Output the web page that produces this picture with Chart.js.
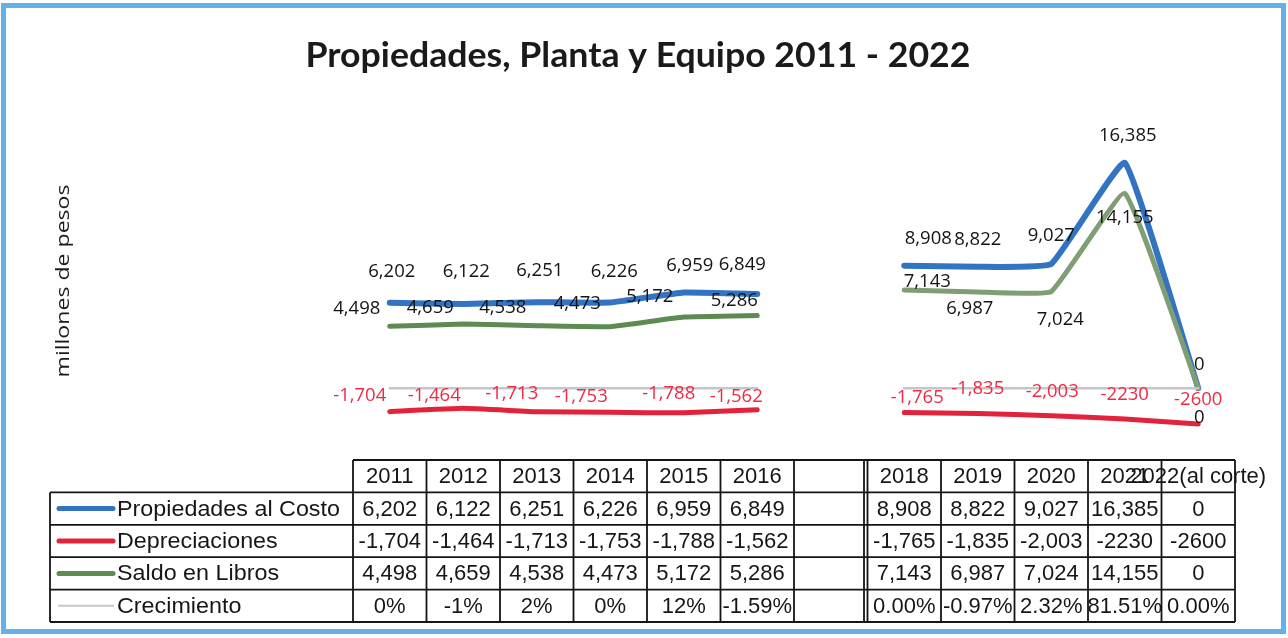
<!DOCTYPE html>
<html><head><meta charset="utf-8">
<script src="https://cdn.jsdelivr.net/npm/chart.js@4/dist/chart.umd.min.js"></script>
<style>html,body{margin:0;padding:0;background:#fff;overflow:hidden}canvas{display:block}</style>
</head><body>
<canvas id="c" width="1288" height="638"></canvas>
<script>
// ---------- data ----------
const categories = ['2011','2012','2013','2014','2015','2016','','2018','2019','2020','2021','2022(al corte)'];
const seriesNames = ['Propiedades al Costo','Depreciaciones','Saldo en Libros','Crecimiento'];
const propiedades    = [6202, 6122, 6251, 6226, 6959, 6849, null, 8908, 8822, 9027, 16385, 0];
const depreciaciones = [-1704,-1464,-1713,-1753,-1788,-1562, null,-1765,-1835,-2003,-2230,-2600];
const saldo          = [4498, 4659, 4538, 4473, 5172, 5286, null, 7143, 6987, 7024, 14155, 0];
const crecimiento    = [0, -1, 2, 0, 12, -1.59, null, 0, -0.97, 2.32, 81.51, 0]; // percent
const crecimientoDecimals = [0,0,0,0,0,2,null,2,2,2,2,2];
const depNoGrouping  = [false,false,false,false,false,false,false,false,false,false,true,true];

// ---------- style ----------
const COLORS = { prop:'#3273c2', dep:'#e3223c', salA:'#5e8b52', salB:'#7f9e73', crec:'#c6c6c6', red:'#ee2a45' };
const labelOffsets = {
  prop: [[2,-31],[3,-32],[3,-31],[4,-31],[6,-27],[-15,-29],null,[24,-27],[0,-27],[0,-28],[3,-27],[1,-23]],
  sal:  [[-33,-18],[-33,-16],[-34,-18],[-33,-23],[-34,-20],[-23,-15],null,[23,-8],[-8,17],[9,28],[0,24],[1,30]],
  dep:  [[-30,-16],[-29,-13],[-25,-18],[-29,-16],[-15,-19],[-21,-13],null,[13,-15],[0,-25],[1,-24],[0,-24],[0,-24]]
};

function fmt(v, grouped){ return grouped ? v.toLocaleString('en-US') : String(v); }
function fmtPct(v, d){ return v.toFixed(d) + '%'; }

const dataLabels = {
  id:'dataLabels',
  afterDatasetsDraw(chart){
    const ctx = chart.ctx;
    const specs = [
      {ds:0, off:labelOffsets.prop, color:'#141414', text:(v,i)=>fmt(v,true)},
      {ds:2, off:labelOffsets.sal,  color:'#141414', text:(v,i)=>fmt(v,true)},
      {ds:1, off:labelOffsets.dep,  color:COLORS.red, text:(v,i)=>fmt(v,!depNoGrouping[i])}
    ];
    ctx.save();
    ctx.font = '500 18.5px "Open Sans"';
    ctx.textAlign = 'center'; ctx.textBaseline = 'middle';
    specs.forEach(s=>{
      const meta = chart.getDatasetMeta(s.ds);
      const vals = chart.data.datasets[s.ds].data;
      vals.forEach((v,i)=>{
        if (v === null) return;
        const p = meta.data[i]; const o = s.off[i] || [0,-20];
        ctx.fillStyle = s.color;
        ctx.fillText(s.text(v,i), p.x + o[0], p.y + o[1]);
      });
    });
    ctx.restore();
  }
};

const decor = {
  id:'decor',
  beforeDraw(chart){
    const ctx = chart.ctx;
    ctx.save(); ctx.fillStyle = '#fff'; ctx.fillRect(0,0,chart.width,chart.height); ctx.restore();
  },
  afterDraw(chart){
    const ctx = chart.ctx;
    const xs = chart.scales.x;
    const area = chart.chartArea;
    ctx.save();
    // frame
    ctx.strokeStyle = '#66b0e9'; ctx.lineWidth = 5;
    ctx.strokeRect(3.5, 5.5, 1280, 626);
    // title (fit to width)
    const title = 'Propiedades, Planta y Equipo 2011 - 2022';
    ctx.font = 'bold 35px Lato';
    let w = ctx.measureText(title).width;
    ctx.save();
    ctx.translate(638, 67); ctx.scale(665 / w, 1);
    ctx.fillStyle = '#1a1a1a'; ctx.textAlign = 'center'; ctx.textBaseline = 'alphabetic';
    ctx.fillText(title, 0, 0);
    ctx.restore();
    // y axis title
    ctx.save();
    ctx.translate(64, 281); ctx.rotate(-Math.PI/2);
    ctx.font = '19px "Open Sans"'; ctx.textBaseline = 'middle'; ctx.textAlign = 'center';
    const yt = 'millones de pesos';
    const yw = ctx.measureText(yt).width;
    ctx.scale(193 / yw, 1);
    ctx.fillStyle = '#1a1a1a';
    ctx.fillText(yt, 0, 0);
    ctx.restore();

    // data table
    const colW = area.width / categories.length;
    const left = area.left, right = area.right;
    const top = 460, rowH = 32.4, nRows = 5;
    const labelLeft = 50;
    ctx.strokeStyle = '#151515'; ctx.lineWidth = 1.8;
    ctx.beginPath();
    ctx.moveTo(left, top); ctx.lineTo(right, top);
    for (let r=1; r<=nRows; r++){
      const y = top + r*rowH;
      ctx.moveTo(labelLeft, y); ctx.lineTo(right, y);
    }
    ctx.moveTo(labelLeft, top+rowH); ctx.lineTo(labelLeft, top+nRows*rowH);
    for (let c=0; c<=categories.length; c++){
      const x = left + c*colW;
      ctx.moveTo(x, top); ctx.lineTo(x, top+nRows*rowH);
    }
    // double rule where the table is split (before 2018)
    const xs2 = left + 7*colW - 3.5;
    ctx.moveTo(xs2, top); ctx.lineTo(xs2, top+nRows*rowH);
    ctx.stroke();

    ctx.fillStyle = '#161616';
    ctx.font = '22px "Liberation Sans"';
    ctx.textBaseline = 'middle'; ctx.textAlign = 'center';
    categories.forEach((c,i)=>{
      ctx.fillText(c, xs.getPixelForValue(i), top + rowH/2 + 1);
    });
    const rows = [
      propiedades.map(v=> v===null?'':fmt(v,true)),
      depreciaciones.map((v,i)=> v===null?'':fmt(v,!depNoGrouping[i])),
      saldo.map(v=> v===null?'':fmt(v,true)),
      crecimiento.map((v,i)=> v===null?'':fmtPct(v,crecimientoDecimals[i]))
    ];
    const keyColors = [COLORS.prop, COLORS.dep, COLORS.salA, COLORS.crec];
    const keyWidths = [5,5,5,2];
    rows.forEach((row,r)=>{
      const yc = top + (r+1)*rowH + rowH/2;
      row.forEach((t,i)=>{ ctx.fillText(t, xs.getPixelForValue(i), yc + 1); });
      ctx.save();
      ctx.strokeStyle = keyColors[r]; ctx.lineWidth = keyWidths[r]; ctx.lineCap = 'round';
      ctx.beginPath(); ctx.moveTo(59, yc); ctx.lineTo(113, yc); ctx.stroke();
      ctx.restore();
      ctx.save();
      ctx.translate(117, yc + 1); ctx.scale(1.06, 1);
      ctx.textAlign = 'left';
      ctx.fillText(seriesNames[r], 0, 0);
      ctx.restore();
    });
    ctx.restore();
  }
};

new Chart(document.getElementById('c'), {
  type:'line',
  data:{
    labels: categories,
    datasets:[
      {label:seriesNames[0], data:propiedades, borderColor:COLORS.prop, borderWidth:6, order:3},
      {label:seriesNames[1], data:depreciaciones, borderColor:COLORS.dep, borderWidth:5, order:2},
      {label:seriesNames[2], data:saldo, borderColor:COLORS.salA, borderWidth:5, order:1,
        segment:{ borderColor: c => c.p0DataIndex >= 7 ? COLORS.salB : COLORS.salA }},
      {label:seriesNames[3], data:crecimiento.map(v=> v===null?null:v/100), borderColor:COLORS.crec, borderWidth:2.5, order:0}
    ]
  },
  options:{
    responsive:false, animation:false,
    layout:{ padding:{ left:353, right:53, top:113, bottom:181 } },
    elements:{ point:{ radius:0, hoverRadius:0 }, line:{ tension:0.1, borderCapStyle:'round', borderJoinStyle:'round' } },
    spanGaps:false,
    scales:{
      x:{ display:false, offset:true },
      y:{ display:false, min:-5000, max:20000 }
    },
    plugins:{ legend:{display:false}, tooltip:{enabled:false}, title:{display:false} }
  },
  plugins:[decor, dataLabels]
});
</script>
</body></html>
